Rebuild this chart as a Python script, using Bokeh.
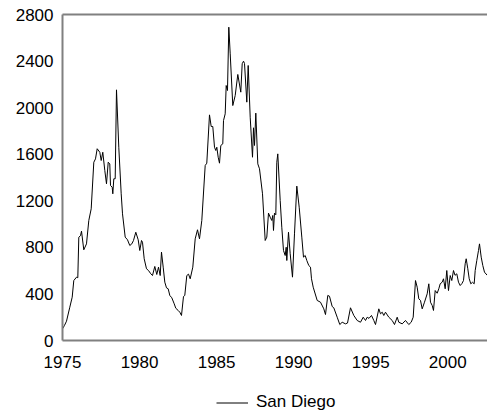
from bokeh.plotting import figure
from bokeh.models import Legend, LegendItem, FixedTicker, LinearAxis, Range1d
from bokeh.layouts import column
from bokeh.embed import file_html
from bokeh.resources import INLINE

years = [
    1975.000, 1975.130, 1975.260, 1975.474, 1975.629, 1975.733, 1975.909, 1975.993,
    1976.058, 1976.168, 1976.233, 1976.382, 1976.557, 1976.707, 1976.862, 1977.031,
    1977.141, 1977.252, 1977.421, 1977.511, 1977.615, 1977.745, 1977.855, 1977.966,
    1978.069, 1978.115, 1978.225, 1978.264, 1978.329, 1978.420, 1978.504, 1978.653,
    1978.809, 1978.894, 1979.069, 1979.218, 1979.367, 1979.497, 1979.607, 1979.757,
    1979.912, 1980.016, 1980.127, 1980.191, 1980.302, 1980.451, 1980.581, 1980.730,
    1980.840, 1980.990, 1981.119, 1981.230, 1981.340, 1981.424, 1981.535, 1981.639,
    1981.749, 1981.859, 1981.963, 1982.093, 1982.249, 1982.352, 1982.508, 1982.612,
    1982.722, 1982.852, 1982.936, 1983.066, 1983.177, 1983.287, 1983.456, 1983.611,
    1983.761, 1983.890, 1984.040, 1984.260, 1984.364, 1984.539, 1984.649, 1984.753,
    1984.864, 1984.948, 1985.013, 1985.104, 1985.188, 1985.273, 1985.402, 1985.448,
    1985.558, 1985.623, 1985.707, 1985.792, 1985.883, 1986.051, 1986.207, 1986.376,
    1986.570, 1986.661, 1986.746, 1986.811, 1986.960, 1987.051, 1987.180, 1987.330,
    1987.395, 1987.459, 1987.544, 1987.674, 1987.784, 1987.979, 1988.154, 1988.258,
    1988.368, 1988.478, 1988.582, 1988.647, 1988.692, 1988.757, 1988.842, 1988.907,
    1988.971, 1989.127, 1989.231, 1989.341, 1989.452, 1989.517, 1989.556, 1989.666,
    1989.776, 1989.925, 1990.055, 1990.205, 1990.360, 1990.529, 1990.639, 1990.750,
    1990.854, 1990.983, 1991.093, 1991.158, 1991.269, 1991.528, 1991.742, 1991.957,
    1992.067, 1992.216, 1992.326, 1992.501, 1992.605, 1992.826, 1992.995, 1993.150,
    1993.365, 1993.495, 1993.689, 1993.904, 1994.124, 1994.338, 1994.513, 1994.663,
    1994.773, 1994.890, 1995.052, 1995.202, 1995.312, 1995.526, 1995.636, 1995.747,
    1995.850, 1995.960, 1996.175, 1996.395, 1996.544, 1996.720, 1996.824, 1997.044,
    1997.258, 1997.472, 1997.628, 1997.758, 1997.907, 1998.017, 1998.121, 1998.232,
    1998.342, 1998.491, 1998.667, 1998.771, 1998.881, 1998.991, 1999.075, 1999.186,
    1999.315, 1999.419, 1999.510, 1999.640, 1999.724, 1999.834, 1999.938, 2000.049,
    2000.159, 2000.263, 2000.373, 2000.471, 2000.587, 2000.698, 2000.808, 2000.925,
    2001.022, 2001.132, 2001.197, 2001.302, 2001.393, 2001.497, 2001.606, 2001.716,
    2001.782, 2001.885, 2001.995, 2002.060, 2002.171, 2002.275, 2002.385, 2002.560,
]
values = [
    100, 130, 166, 286, 372, 515, 544, 539,
    887, 900, 939, 779, 830, 1031, 1131, 1531,
    1560, 1647, 1617, 1546, 1617, 1460, 1346, 1531,
    1517, 1331, 1317, 1260, 1389, 1389, 2153, 1660,
    1260, 1088, 888, 865, 816, 830, 859, 930,
    865, 773, 859, 844, 702, 616, 601, 573,
    558, 636, 567, 630, 558, 759, 630, 501,
    452, 444, 387, 367, 315, 277, 258, 243,
    215, 378, 387, 558, 570, 530, 630, 873,
    951, 873, 1031, 1503, 1523, 1938, 1838, 1838,
    1660, 1632, 1660, 1574, 1523, 1675, 1689, 1889,
    1947, 2190, 2147, 2691, 2462, 2018, 2104, 2285,
    2133, 2377, 2399, 2380, 2047, 2362, 1918, 1574,
    1827, 1675, 1953, 1517, 1475, 1260, 859, 888,
    1094, 1059, 1031, 1074, 945, 1094, 1080, 1531,
    1603, 1202, 973, 773, 730, 801, 687, 930,
    745, 544, 916, 1326, 1145, 888, 716, 730,
    687, 644, 630, 530, 458, 344, 329, 272,
    223, 387, 380, 292, 281, 200, 137, 157,
    143, 150, 281, 215, 172, 157, 200, 172,
    200, 190, 215, 172, 137, 272, 229, 243,
    215, 243, 200, 172, 137, 200, 157, 143,
    172, 137, 157, 200, 515, 458, 358, 344,
    272, 329, 401, 487, 329, 301, 258, 429,
    406, 444, 487, 501, 530, 444, 601, 429,
    558, 515, 601, 560, 573, 501, 472, 490,
    515, 659, 702, 616, 530, 487, 500, 487,
    601, 687, 773, 830, 716, 644, 587, 560,
]
x_ticks = [1975, 1980, 1985, 1990, 1995, 2000]
y_ticks = [0, 400, 800, 1200, 1600, 2000, 2400, 2800]
series_name = "San Diego"

FONT = "Liberation Sans"
FSIZE = "17px"
AXIS_GRAY = "#808080"

p = figure(width=487, height=372, output_backend="svg", toolbar_location=None,
           x_range=Range1d(1975, 2002.58), y_range=Range1d(0, 2800),
           min_border_left=62, min_border_right=0, min_border_top=14,
           min_border_bottom=32, x_axis_location=None, y_axis_location=None)
p.outline_line_color = None
p.xgrid.visible = False
p.ygrid.visible = False
p.background_fill_color = "white"
p.border_fill_color = "white"

def style_axis(ax, standoff):
    ax.axis_line_color = AXIS_GRAY
    ax.axis_line_width = 2
    ax.major_tick_out = 0
    ax.major_tick_in = 0
    ax.minor_tick_out = 0
    ax.minor_tick_in = 0
    ax.major_label_text_font = FONT
    ax.major_label_text_font_size = FSIZE
    ax.major_label_text_color = "#000000"
    ax.major_label_standoff = standoff

xaxis = LinearAxis(ticker=FixedTicker(ticks=x_ticks))
style_axis(xaxis, 15)
p.add_layout(xaxis, "below")

yaxis = LinearAxis(ticker=FixedTicker(ticks=y_ticks))
style_axis(yaxis, 9)
p.add_layout(yaxis, "left")

top_axis = LinearAxis(ticker=FixedTicker(ticks=[]))
style_axis(top_axis, 0)
top_axis.major_label_text_font_size = "0px"
p.add_layout(top_axis, "above")

p.line(years, values, line_color="#000000", line_width=1)

# legend strip below the chart
pl = figure(width=487, height=42, output_backend="svg", toolbar_location=None,
            x_range=Range1d(-10, -9), y_range=Range1d(-10, -9),
            min_border_left=0, min_border_right=0, min_border_top=0,
            min_border_bottom=0, x_axis_location=None, y_axis_location=None)
pl.outline_line_color = None
pl.xgrid.visible = False
pl.ygrid.visible = False
pl.background_fill_color = "white"
pl.border_fill_color = "white"
r_leg = pl.line(years, values, line_color="#000000", line_width=1)

legend = Legend(items=[LegendItem(label=series_name, renderers=[r_leg])],
                location=(154, 2), orientation="horizontal",
                padding=0, margin=0, spacing=0,
                glyph_width=32, glyph_height=17, label_height=17,
                label_standoff=8, border_line_color=None,
                background_fill_alpha=0,
                label_text_font=FONT, label_text_font_size=FSIZE,
                label_text_color="#000000")
pl.add_layout(legend, "center")

layout = column(p, pl, spacing=0)
open("out.html", "w").write(file_html(layout, INLINE))
